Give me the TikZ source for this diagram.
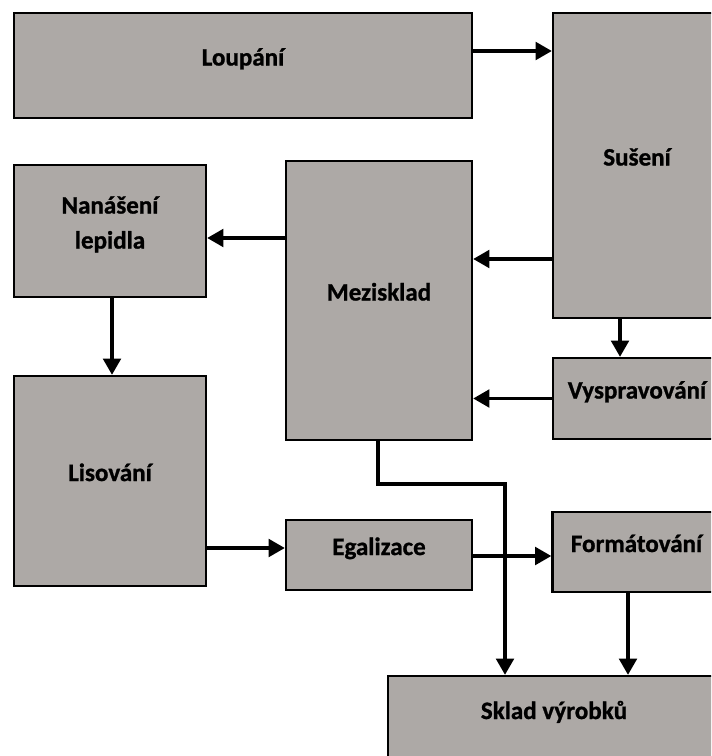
\documentclass[tikz,border=0pt]{standalone}
\usepackage{fontspec}
\setmainfont{Carlito}[BoldFeatures={FakeBold=1}]
\usetikzlibrary{arrows.meta,calc,positioning}
\definecolor{boxgray}{RGB}{173,169,166}
\tikzset{
  stage/.style={draw=black,fill=boxgray,line width=1.65pt,inner sep=0pt,align=center,
    text height=8pt,text depth=8pt,font=\bfseries\fontsize{17.8}{24.9}\selectfont},
  flow/.style={line width=2.35pt,-{Triangle[length=11.5pt,width=12.5pt]}}
}
\begin{document}
\begin{tikzpicture}[x=0.025cm,y=-0.025cm]
        \useasboundingbox (0,0) rectangle (711,756);
        \clip (0,0) rectangle (711,756);
        % Draw the boxes
        \node[stage,minimum width=11.45cm,minimum height=2.625cm] (loup) at (243,65.5) {Loupání};
        \node[stage,minimum width=4.2cm,minimum height=7.625cm] (sus) at (637,165.5) {Sušení};
        \node[stage,minimum width=4.8cm,minimum height=3.3cm,text height=33pt] (nan) at (110,231) {Nanášení\\lepidla};
        \node[stage,minimum width=4.65cm,minimum height=6.975cm] (mez) at (379,300.5) {Mezisklad};
        \node[stage,minimum width=4.2cm,minimum height=2.025cm] (vys) at (637,398.5) {Vyspravování};
        \node[stage,minimum width=4.8cm,minimum height=5.25cm] (lis) at (110,481) {Lisování};
        \node[stage,minimum width=4.65cm,minimum height=1.75cm] (ega) at (379,555) {Egalizace};
        \node[stage,minimum width=4.2cm,minimum height=2cm] (form) at (636.5,552) {Formátování};
        \node[stage,minimum width=8.3cm,minimum height=2.15cm] (skl) at (554,719) {Sklad výrobků};
        % the flow between stages
        \draw[flow] ($(loup.east)+(0,-14.5)$) -- ($(loup.east -| sus.west)+(0,-14.5)$);
        \draw[flow] (sus.west |- 0,259) -- (mez.east |- 0,259);
        \draw[flow] (620,0 |- sus.south) -- (620,0 |- vys.north);
        \draw[flow] (vys.west) -- (vys.west -| mez.east);
        \draw[flow] (mez.west |- 0,238) -- (nan.east |- 0,238);
        \draw[flow] (112,0 |- nan.south) -- (112,0 |- lis.north);
        \draw[flow] (lis.east |- 0,548) -- (ega.west |- 0,548);
        \draw[flow] (ega.east |- 0,556) -- (form.west |- 0,556);
        \draw[flow] (378,0 |- mez.south) |- (505,484) -- (505,0 |- skl.north);
        \draw[flow] (628,0 |- form.south) -- (628,0 |- skl.north);
      \end{tikzpicture}
\end{document}
